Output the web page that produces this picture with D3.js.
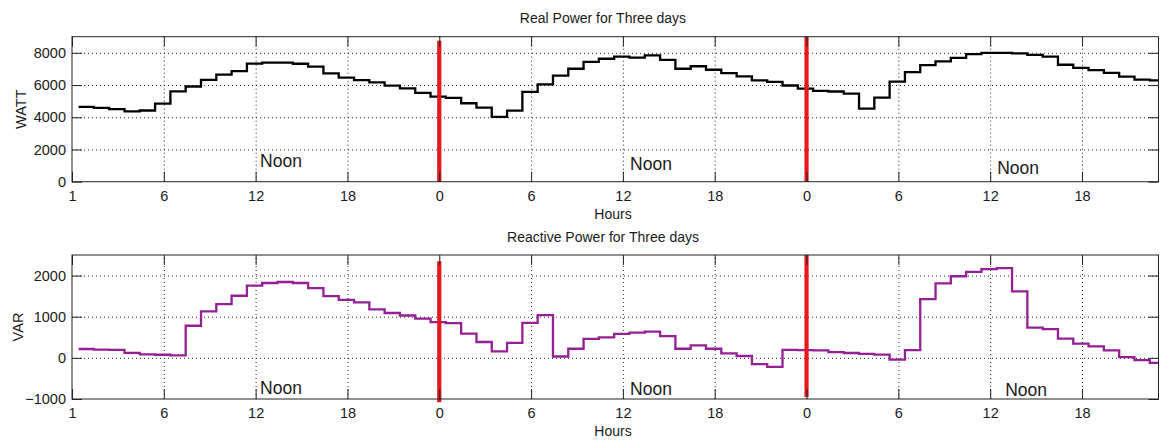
<!DOCTYPE html>
<html>
<head>
<meta charset="utf-8">
<script src="https://cdn.jsdelivr.net/npm/d3@7"></script>
<style>
  body { margin: 0; background: #fff; }
  svg { display: block; font-family: "Liberation Sans", Arial, Helvetica, sans-serif; }
</style>
</head>
<body>
<svg id="chart" width="1162" height="442"></svg>
<script>
// Hour-of-day axis: sample index 1..72 over three days, labelled by clock hour
const tickHours  = [1, 7, 13, 19, 25, 31, 37, 43, 49, 55, 61, 67];
const tickLabels = ["1", "6", "12", "18", "0", "6", "12", "18", "0", "6", "12", "18"];
const sampleOffset = 0.43;   // each hourly reading is logged shortly after the hour mark

// Real power (W), one reading per hour
const realPower = [
  4640, 4580, 4500, 4360, 4420, 4840, 5610, 5910, 6320, 6650, 6860, 7330,
  7390, 7390, 7320, 7140, 6720, 6460, 6300, 6160, 5960, 5790, 5510, 5280,
  5200, 4870, 4600, 4020, 4410, 5570, 6040, 6580, 7010, 7440, 7630, 7760,
  7700, 7835, 7560, 7010, 7165, 6950, 6740, 6536, 6290, 6200, 5970, 5773,
  5640, 5600, 5464, 4536, 5216, 6210, 6800, 7240, 7464, 7680, 7920, 7990,
  7990, 7960, 7870, 7760, 7260, 7060, 6920, 6760, 6520, 6340, 6290
];

// Reactive power (VAR), one reading per hour
const reactivePower = [
  215, 200, 195, 123, 85, 75, 60, 780, 1130, 1305, 1510, 1758,
  1820, 1844, 1820, 1697, 1500, 1410, 1350, 1180, 1090, 1030, 955, 870,
  845, 590, 385, 156, 365, 852, 1041, 33, 221, 460, 500, 585,
  615, 640, 530, 221, 303, 221, 110, 45, -150, -220, 195, 190,
  180, 139, 118, 98, 78, -45, 190, 1426, 1810, 1984, 2090, 2155,
  2180, 1615, 735, 700, 467, 344, 279, 180, 16, -57, -120
];

const realTicks = [0, 2000, 4000, 6000, 8000];
const reactiveTicks = [-1000, 0, 1000, 2000];

// Midnight markers (red) and their vertical extent in each panel
const midnightHours = [25, 49];
const realMidnightSpan = [[0, 8750], [0, 9000]];
const reactiveMidnightSpan = [[-1080, 2350], [-950, 2500]];

// "Noon" annotations: [hour index, value]
const noonReal = [[13.29, 928], [37.47, 724], [61.46, 476]];
const noonReactive = [[13.29, -878], [37.47, -895], [61.98, -920]];

const svg = d3.select("#chart");
const x = d3.scaleLinear().domain([1, 72]).range([72, 1158.5]);
const plainNumber = d3.format("d");

function panel(cfg) {
  const y = d3.scaleLinear().domain(cfg.yDomain).range([cfg.bottom, cfg.top]);
  const g = svg.append("g");
  const h = cfg.bottom - cfg.top;
  const clipId = "clip-" + cfg.id;

  g.append("clipPath").attr("id", clipId)
    .append("rect").attr("x", x(1)).attr("y", cfg.top)
    .attr("width", x(72) - x(1)).attr("height", h);

  // dotted grid
  const gridX = g.append("g").attr("transform", `translate(0,${cfg.bottom})`)
    .call(d3.axisBottom(x).tickValues(tickHours.filter(d => d !== 1))
      .tickSize(-h).tickFormat(""));
  const gridY = g.append("g").attr("transform", `translate(${x(1)},0)`)
    .call(d3.axisLeft(y).tickValues(cfg.ticks.filter(d => d !== cfg.yDomain[0]))
      .tickSize(-(x(72) - x(1))).tickFormat(""));
  [gridX, gridY].forEach(s => {
    s.select(".domain").remove();
    s.selectAll("line").attr("stroke", "#000").attr("stroke-width", 1)
      .attr("stroke-dasharray", "1,3").attr("opacity", 0.85);
  });

  // stair line
  const pts = cfg.values.map((v, j) => [j + 1 + sampleOffset, v]);
  pts.push([cfg.values.length + 1 + sampleOffset, cfg.values[cfg.values.length - 1]]);
  const line = d3.line().x(d => x(d[0])).y(d => y(d[1])).curve(d3.curveStepAfter);
  g.append("path").attr("clip-path", `url(#${clipId})`)
    .datum(pts).attr("d", line)
    .attr("fill", "none").attr("stroke", cfg.color)
    .attr("stroke-width", 2.3).attr("stroke-linejoin", "miter");

  // midnight markers
  g.selectAll(".midnight").data(midnightHours).enter().append("line")
    .attr("x1", d => x(d)).attr("x2", d => x(d))
    .attr("y1", (d, i) => y(cfg.span[i][0])).attr("y2", (d, i) => y(cfg.span[i][1]))
    .attr("stroke", "#e3191b").attr("stroke-width", 4.2);

  // noon labels
  g.selectAll(".noon").data(cfg.noon).enter().append("text")
    .attr("x", d => x(d[0])).attr("y", d => y(d[1]))
    .attr("font-size", 17.5).attr("fill", "#1a1a1a").text("Noon");

  // box
  g.append("rect").attr("x", x(1)).attr("y", cfg.top)
    .attr("width", x(72) - x(1)).attr("height", h)
    .attr("fill", "none").attr("stroke", "#222").attr("stroke-width", 1);

  // axes with inward ticks
  const axB = g.append("g").attr("transform", `translate(0,${cfg.bottom})`)
    .call(d3.axisBottom(x).tickValues(tickHours)
      .tickFormat((d, i) => tickLabels[i]).tickSizeInner(-10).tickSizeOuter(0).tickPadding(9));
  const axT = g.append("g").attr("transform", `translate(0,${cfg.top})`)
    .call(d3.axisTop(x).tickValues(tickHours).tickFormat("").tickSizeInner(-10).tickSizeOuter(0));
  const axL = g.append("g").attr("transform", `translate(${x(1)},0)`)
    .call(d3.axisLeft(y).tickValues(cfg.ticks).tickFormat(plainNumber)
      .tickSizeInner(-10).tickSizeOuter(0).tickPadding(6));
  const axR = g.append("g").attr("transform", `translate(${x(72)},0)`)
    .call(d3.axisRight(y).tickValues(cfg.ticks).tickFormat("").tickSizeInner(-10).tickSizeOuter(0));
  [axB, axT, axL, axR].forEach(s => {
    s.select(".domain").remove();
    s.selectAll("line").attr("stroke", "#222");
    s.selectAll("text").attr("font-size", 14.5).attr("fill", "#1a1a1a")
      .attr("font-family", "'Liberation Sans', Arial, sans-serif");
  });

  // titles and labels
  g.append("text").attr("x", 603).attr("y", cfg.top - 13.5)
    .attr("text-anchor", "middle").attr("font-size", 14).attr("fill", "#1a1a1a")
    .text(cfg.title);
  g.append("text").attr("x", 613).attr("y", cfg.bottom + 37)
    .attr("text-anchor", "middle").attr("font-size", 14).attr("fill", "#1a1a1a")
    .text("Hours");
  g.append("text")
    .attr("transform", `translate(${cfg.yLabelX},${(cfg.top + cfg.bottom) / 2}) rotate(-90)`)
    .attr("text-anchor", "middle").attr("font-size", 14.5).attr("fill", "#1a1a1a")
    .text(cfg.yLabel);
}

panel({
  id: "real", top: 36.7, bottom: 181.7, yDomain: [0, 9000], ticks: realTicks,
  values: realPower, color: "#000", span: realMidnightSpan, noon: noonReal,
  title: "Real Power for Three days", yLabel: "WATT", yLabelX: 26
});
panel({
  id: "reactive", top: 255, bottom: 399, yDomain: [-1000, 2500], ticks: reactiveTicks,
  values: reactivePower, color: "#951f95", span: reactiveMidnightSpan, noon: noonReactive,
  title: "Reactive Power for Three days", yLabel: "VAR", yLabelX: 23
});
</script>
</body>
</html>
